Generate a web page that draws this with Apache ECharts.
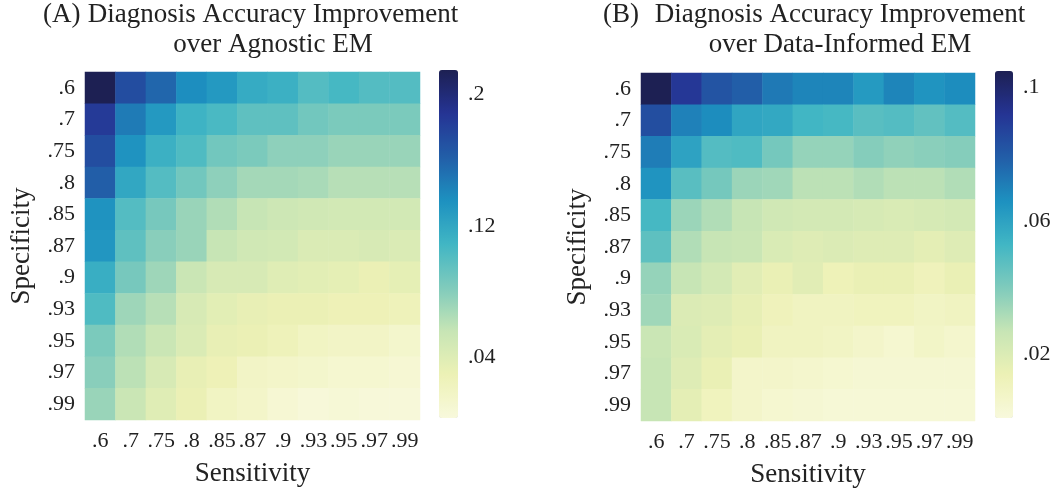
<!DOCTYPE html>
<html>
<head>
<meta charset="utf-8">
<script src="https://cdn.jsdelivr.net/npm/echarts@6/dist/echarts.min.js"></script>
<style>
html,body{margin:0;padding:0;background:#fff;}
#chart{width:1055px;height:488px;}
</style>
</head>
<body>
<div id="chart"></div>
<script>
// Category labels (both axes share the same grid of rates)
const sensitivity = ['.6','.7','.75','.8','.85','.87','.9','.93','.95','.97','.99'];
const specificity = ['.6','.7','.75','.8','.85','.87','.9','.93','.95','.97','.99'];

// Panel A: improvement over agnostic EM (rows = specificity, cols = sensitivity)
const valuesA = [
  [0.215, 0.173, 0.158, 0.137, 0.130, 0.117, 0.113, 0.101, 0.107, 0.101, 0.101],
  [0.185, 0.147, 0.130, 0.111, 0.105, 0.096, 0.096, 0.088, 0.084, 0.084, 0.084],
  [0.173, 0.134, 0.113, 0.103, 0.088, 0.084, 0.077, 0.077, 0.073, 0.073, 0.073],
  [0.162, 0.120, 0.101, 0.088, 0.077, 0.069, 0.069, 0.067, 0.062, 0.062, 0.062],
  [0.134, 0.101, 0.086, 0.073, 0.064, 0.056, 0.052, 0.050, 0.048, 0.048, 0.048],
  [0.132, 0.096, 0.079, 0.073, 0.056, 0.050, 0.048, 0.043, 0.043, 0.045, 0.043],
  [0.115, 0.086, 0.071, 0.054, 0.045, 0.045, 0.039, 0.037, 0.035, 0.031, 0.035],
  [0.103, 0.071, 0.062, 0.045, 0.037, 0.033, 0.031, 0.031, 0.028, 0.028, 0.026],
  [0.084, 0.064, 0.054, 0.043, 0.033, 0.031, 0.026, 0.020, 0.018, 0.018, 0.014],
  [0.079, 0.060, 0.045, 0.033, 0.028, 0.018, 0.016, 0.014, 0.011, 0.011, 0.009],
  [0.073, 0.054, 0.039, 0.031, 0.020, 0.016, 0.009, 0.005, 0.007, 0.005, 0.005]
];

// Panel B: improvement over data-informed EM
const valuesB = [
  [0.105, 0.091, 0.082, 0.079, 0.072, 0.069, 0.069, 0.063, 0.069, 0.065, 0.067],
  [0.084, 0.070, 0.067, 0.059, 0.058, 0.053, 0.052, 0.048, 0.049, 0.046, 0.049],
  [0.071, 0.060, 0.049, 0.050, 0.042, 0.036, 0.036, 0.039, 0.037, 0.038, 0.039],
  [0.065, 0.048, 0.042, 0.035, 0.034, 0.029, 0.029, 0.031, 0.029, 0.029, 0.031],
  [0.052, 0.035, 0.031, 0.027, 0.024, 0.023, 0.023, 0.022, 0.021, 0.022, 0.023],
  [0.047, 0.031, 0.027, 0.026, 0.021, 0.019, 0.020, 0.019, 0.019, 0.017, 0.019],
  [0.036, 0.027, 0.023, 0.018, 0.015, 0.018, 0.013, 0.015, 0.015, 0.012, 0.015],
  [0.034, 0.020, 0.019, 0.016, 0.012, 0.010, 0.010, 0.011, 0.011, 0.009, 0.010],
  [0.026, 0.021, 0.017, 0.015, 0.010, 0.010, 0.009, 0.007, 0.005, 0.008, 0.006],
  [0.027, 0.019, 0.015, 0.007, 0.007, 0.006, 0.005, 0.004, 0.004, 0.004, 0.004],
  [0.027, 0.017, 0.011, 0.007, 0.005, 0.004, 0.003, 0.003, 0.003, 0.003, 0.003]
];

// Colour-scale ranges and colour-bar tick labels
const rangeA = [0.003, 0.215];
const rangeB = [0.001, 0.105];
const ticksA = [0.04, 0.12, 0.2];
const ticksB = [0.02, 0.06, 0.1];

const palette = ['#f8f9dc','#edf1b5','#c7e5b5','#7fcbbc','#41b6c4','#1d91c0','#225ea8','#253494','#1d2053'];
const FONT = "'Liberation Serif', 'DejaVu Serif', serif";
const TXT = '#222';

function toCells(mat) {
  const out = [];
  mat.forEach((row, yi) => row.forEach((v, xi) => out.push([xi, yi, v])));
  return out;
}
const fmt = v => String(v).replace(/^0\./, '.');

const chart = echarts.init(document.getElementById('chart'));

function catX(gi) {
  return {
    type: 'category', gridIndex: gi, data: sensitivity,
    name: 'Sensitivity', nameLocation: 'middle', nameGap: 40,
    nameTextStyle: { fontFamily: FONT, fontSize: 27, color: TXT },
    axisLine: { show: false }, axisTick: { show: false }, splitLine: { show: false },
    axisLabel: { interval: 0, fontFamily: FONT, fontSize: 22, color: TXT, margin: 10 }
  };
}
function catY(gi) {
  return {
    type: 'category', gridIndex: gi, data: specificity, inverse: true,
    name: 'Specificity', nameLocation: 'middle', nameGap: 50, nameRotate: 90,
    nameTextStyle: { fontFamily: FONT, fontSize: 27, color: TXT },
    axisLine: { show: false }, axisTick: { show: false }, splitLine: { show: false },
    axisLabel: { interval: 0, fontFamily: FONT, fontSize: 22, color: TXT, margin: 10 }
  };
}
function barX(gi) {
  return { type: 'value', gridIndex: gi, show: false, min: 0, max: 1 };
}
function barY(gi, range, ticks) {
  return {
    type: 'value', gridIndex: gi, position: 'right', min: range[0], max: range[1],
    axisLine: { show: false }, axisTick: { show: false }, splitLine: { show: false },
    axisLabel: { customValues: ticks, formatter: fmt, fontFamily: FONT, fontSize: 22, color: TXT, margin: 10 }
  };
}

chart.setOption({
  animation: false,
  backgroundColor: '#fff',
  grid: [
    { left: 85, top: 72, width: 335, height: 348, outerBoundsMode: 'none', containLabel: false },
    { left: 641, top: 73, width: 334, height: 348, outerBoundsMode: 'none', containLabel: false },
    { left: 439, top: 70, width: 19, height: 348, outerBoundsMode: 'none', containLabel: false },
    { left: 995, top: 71, width: 18, height: 347, outerBoundsMode: 'none', containLabel: false }
  ],
  xAxis: [catX(0), catX(1), barX(2), barX(3)],
  yAxis: [catY(0), catY(1), barY(2, rangeA, ticksA), barY(3, rangeB, ticksB)],
  visualMap: [
    { type: 'continuous', seriesIndex: 0, min: rangeA[0], max: rangeA[1], calculable: false,
      inRange: { color: palette }, left: 439, top: 70, itemWidth: 19, itemHeight: 348,
      padding: 0, text: null, hoverLink: false },
    { type: 'continuous', seriesIndex: 1, min: rangeB[0], max: rangeB[1], calculable: false,
      inRange: { color: palette }, left: 995, top: 71, itemWidth: 18, itemHeight: 347,
      padding: 0, text: null, hoverLink: false }
  ],
  series: [
    { type: 'heatmap', xAxisIndex: 0, yAxisIndex: 0, data: toCells(valuesA), itemStyle: { borderWidth: 0 } },
    { type: 'heatmap', xAxisIndex: 1, yAxisIndex: 1, data: toCells(valuesB), itemStyle: { borderWidth: 0 } }
  ],
  graphic: [
    { type: 'text', x: 43, y: 0, style: { text: '(A)', font: "27px 'Liberation Serif'", fill: TXT, textVerticalAlign: 'top', lineHeight: 30 } },
    { type: 'text', x: 273, y: 0, style: { text: 'Diagnosis Accuracy Improvement\nover Agnostic EM', font: "27px 'Liberation Serif'", fill: TXT, textAlign: 'center', textVerticalAlign: 'top', lineHeight: 30 } },
    { type: 'text', x: 603, y: 0, style: { text: '(B)', font: "27px 'Liberation Serif'", fill: TXT, textVerticalAlign: 'top', lineHeight: 30 } },
    { type: 'text', x: 840, y: 0, style: { text: 'Diagnosis Accuracy Improvement\nover Data-Informed EM', font: "27px 'Liberation Serif'", fill: TXT, textAlign: 'center', textVerticalAlign: 'top', lineHeight: 30 } }
  ]
});
</script>
</body>
</html>
